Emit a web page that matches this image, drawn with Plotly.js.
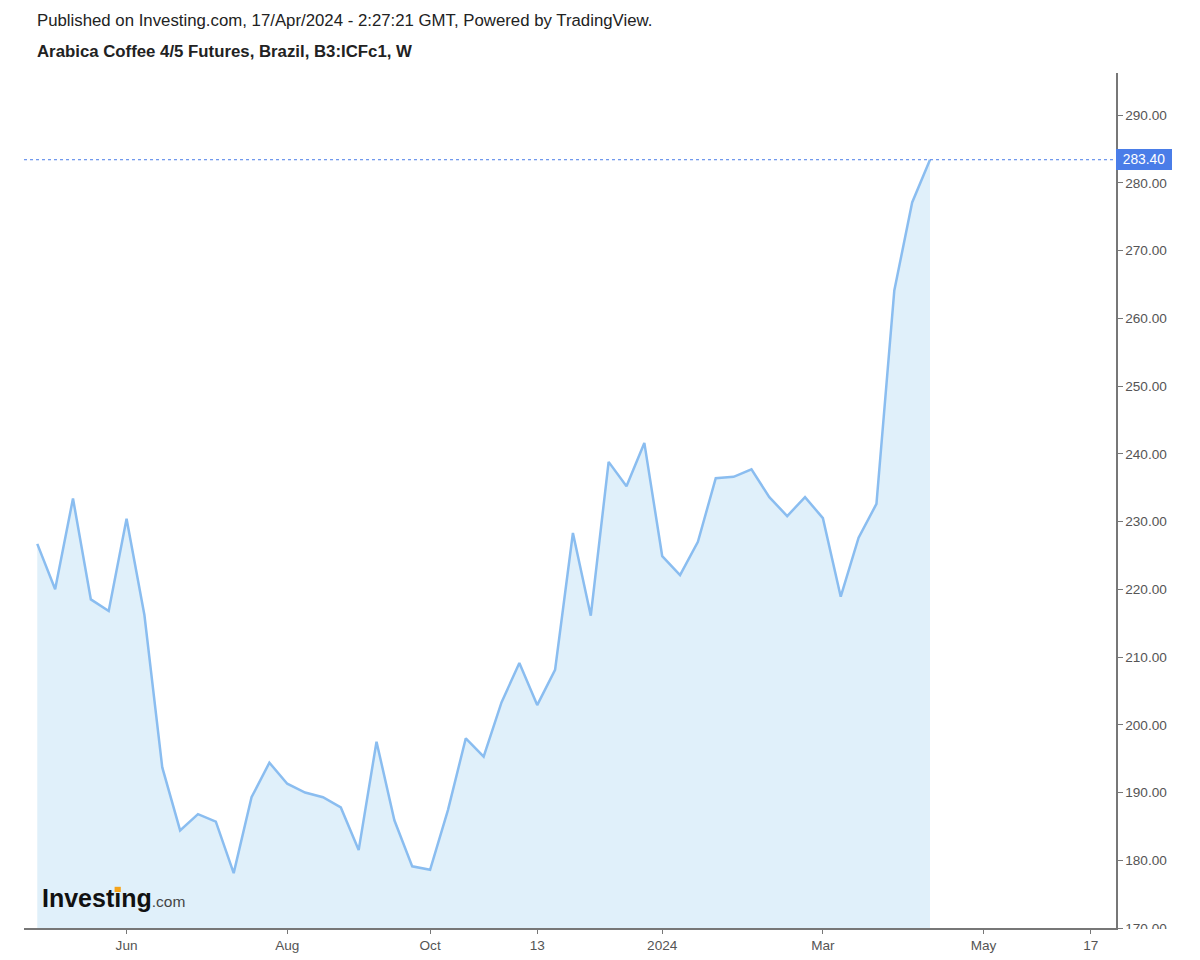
<!DOCTYPE html>
<html>
<head>
<meta charset="utf-8">
<script src="https://cdn.plot.ly/plotly-3.0.1.min.js"></script>
<style>
html,body{margin:0;padding:0;background:#fff;}
#chart{width:1200px;height:960px;}
</style>
</head>
<body>
<div id="chart"></div>
<script>
// Weekly bars (Monday dates)
var dates = [
 '2023-05-01','2023-05-08','2023-05-15','2023-05-22','2023-05-29',
 '2023-06-05','2023-06-12','2023-06-19','2023-06-26',
 '2023-07-03','2023-07-10','2023-07-17','2023-07-24','2023-07-31',
 '2023-08-07','2023-08-14','2023-08-21','2023-08-28',
 '2023-09-04','2023-09-11','2023-09-18','2023-09-25',
 '2023-10-02','2023-10-09','2023-10-16','2023-10-23','2023-10-30',
 '2023-11-06','2023-11-13','2023-11-20','2023-11-27',
 '2023-12-04','2023-12-11','2023-12-18','2023-12-25',
 '2024-01-01','2024-01-08','2024-01-15','2024-01-22','2024-01-29',
 '2024-02-05','2024-02-12','2024-02-19','2024-02-26',
 '2024-03-04','2024-03-11','2024-03-18','2024-03-25',
 '2024-04-01','2024-04-08','2024-04-15'
];
var closes = [
 226.7, 220.0, 233.4, 218.5, 216.8,
 230.4, 216.2, 193.7, 184.4,
 186.8, 185.7, 178.1, 189.3, 194.4,
 191.3, 190.0, 189.3, 187.8,
 181.5, 197.5, 185.9, 179.1,
 178.6, 187.4, 198.0, 195.3, 203.3,
 209.1, 202.9, 208.1, 228.3,
 216.1, 238.8, 235.2, 241.6,
 224.9, 222.1, 227.0, 236.4, 236.6,
 237.7, 233.6, 230.8, 233.6,
 230.5, 218.9, 227.6, 232.6,
 264.1, 277.1, 283.4
];
var lastPrice = 283.40;
var xTickVals = ['2023-06-05','2023-08-07','2023-10-02','2023-11-13','2024-01-01','2024-03-04','2024-05-06','2024-06-17'];
var xTickText = ['Jun','Aug','Oct','13','2024','Mar','May','17'];
var yTickVals = [170,180,190,200,210,220,230,240,250,260,270,280,290];
var headerLine1 = 'Published on Investing.com, 17/Apr/2024 - 2:27:21 GMT, Powered by TradingView.';
var headerLine2 = 'Arabica Coffee 4/5 Futures, Brazil, B3:ICFc1, W';

var FONT = 'Liberation Sans, Arial, sans-serif';

var trace = {
  x: dates, y: closes, type: 'scatter', mode: 'lines',
  line: {color: '#8abdf0', width: 2.5},
  fill: 'tozeroy', fillcolor: '#e0f0fa',
  hoverinfo: 'skip'
};

var layout = {
  width: 1200, height: 960,
  margin: {l: 24, r: 84, t: 73, b: 32},
  paper_bgcolor: '#ffffff', plot_bgcolor: '#ffffff',
  showlegend: false,
  font: {family: FONT, color: '#555', size: 13.6},
  xaxis: {
    type: 'date',
    range: ['2023-04-25 19:00', '2024-06-26 22:00'],
    tickmode: 'array', tickvals: xTickVals, ticktext: xTickText,
    showgrid: false, zeroline: false,
    showline: true, linecolor: '#777', linewidth: 1.5,
    ticks: 'outside', ticklen: 4, tickcolor: '#777', tickwidth: 1,
    tickfont: {family: FONT, size: 13.6, color: '#555'},
    fixedrange: true
  },
  yaxis: {
    side: 'right',
    range: [170, 296.2],
    tickmode: 'array', tickvals: yTickVals,
    tickformat: '.2f',
    showgrid: false, zeroline: false,
    showline: true, linecolor: '#777', linewidth: 1.5,
    ticks: 'outside', ticklen: 5, tickcolor: '#777', tickwidth: 1,
    tickfont: {family: FONT, size: 13.6, color: '#555'},
    fixedrange: true
  },
  shapes: [
    {type: 'line', xref: 'paper', x0: 0, x1: 1, yref: 'y', y0: lastPrice, y1: lastPrice,
     line: {color: '#4a7de8', width: 1, dash: 'dot'}, layer: 'above'},
    // clip the bottom price label like the original pane
    {type: 'rect', xref: 'paper', x0: 1.002, x1: 1.08, yref: 'paper', y0: -0.04, y1: -0.0012,
     fillcolor: '#ffffff', line: {width: 0}, layer: 'above'},
    // orange dot of logo
    {type: 'rect', xref: 'paper', yref: 'paper',
     x0: (114.6 - 24) / 1092, x1: (120.8 - 24) / 1092,
     y0: (928 - 892) / 855, y1: (928 - 886.8) / 855,
     fillcolor: '#f5a31a', line: {width: 0}, layer: 'above'}
  ],
  annotations: [
    {xref: 'paper', yref: 'y', x: 1, y: lastPrice, xanchor: 'left', yanchor: 'middle',
     xshift: 0, text: lastPrice.toFixed(2), showarrow: false, align: 'center',
     width: 52, height: 17, borderpad: 2, borderwidth: 0,
     font: {family: FONT, size: 13.8, color: '#ffffff'}, bgcolor: '#4a7de8'},
    {xref: 'paper', yref: 'paper', x: 0, y: 1, xanchor: 'left', yanchor: 'middle',
     xshift: 11, yshift: 53, text: headerLine1, showarrow: false,
     font: {family: FONT, size: 16.8, color: '#222'}},
    {xref: 'paper', yref: 'paper', x: 0, y: 1, xanchor: 'left', yanchor: 'middle',
     xshift: 11, yshift: 22, text: '<b>' + headerLine2 + '</b>', showarrow: false,
     font: {family: FONT, size: 16.8, color: '#222'}},
    {xref: 'paper', yref: 'paper', x: 0, y: 0, xanchor: 'left', yanchor: 'bottom',
     xshift: 16, yshift: 14,
     text: '<b>Investıng</b><span style="font-size:15.5px;color:#444">.com</span>', showarrow: false,
     font: {family: FONT, size: 25, color: '#111'}}
  ]
};

Plotly.newPlot('chart', [trace], layout, {displayModeBar: false, staticPlot: true});
</script>
</body>
</html>
